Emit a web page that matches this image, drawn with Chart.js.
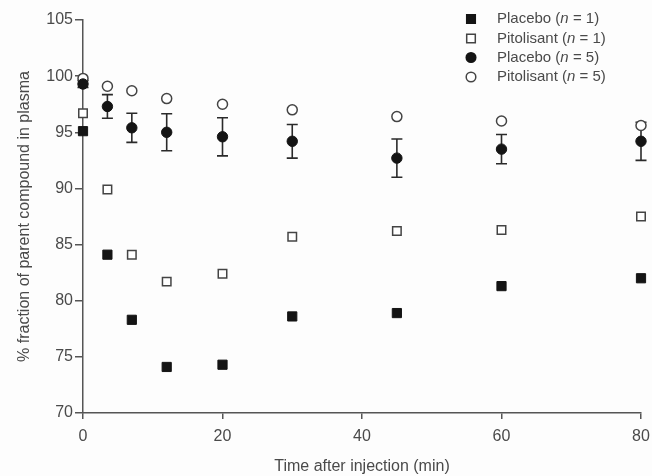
<!DOCTYPE html>
<html>
<head>
<meta charset="utf-8">
<script src="https://cdn.jsdelivr.net/npm/chart.js@4.4.1/dist/chart.umd.min.js"></script>
<style>
  html, body { margin: 0; padding: 0; background: #fdfdfd; }
  #wrap { width: 652px; height: 476px; }
</style>
</head>
<body>
<div id="wrap"><canvas id="c" width="652" height="476"></canvas></div>
<script>
// ---- data ----
const times = [0, 3.5, 7, 12, 20, 30, 45, 60, 80];
const placeboN1 = [95.1, 84.1, 78.3, 74.1, 74.3, 78.6, 78.9, 81.3, 82.0];
const pitolisantN1 = [96.7, 89.9, 84.1, 81.7, 82.4, 85.7, 86.2, 86.3, 87.5];
const placeboN5 = [99.3, 97.3, 95.4, 95.0, 94.6, 94.2, 92.7, 93.5, 94.2];
const placeboN5Err = [0.3, 1.05, 1.3, 1.65, 1.7, 1.5, 1.7, 1.3, 1.7];
const pitolisantN5 = [99.8, 99.1, 98.7, 98.0, 97.5, 97.0, 96.4, 96.0, 95.6];
const legendLabels = [
  ['Placebo (', 'n', ' = 1)'],
  ['Pitolisant (', 'n', ' = 1)'],
  ['Placebo (', 'n', ' = 5)'],
  ['Pitolisant (', 'n', ' = 5)']
];
const xTicks = [0, 20, 40, 60, 80];
const yTicks = [70, 75, 80, 85, 90, 95, 100, 105];

const pts = (vals) => times.map((t, i) => ({ x: t, y: vals[i] }));
const FONT = "'Liberation Sans', Arial, sans-serif";
const TXT = '#4a4a4a';
const AX = '#555';

const errorBars = {
  id: 'errorBars',
  beforeDatasetsDraw(chart) {
    const { ctx, scales: { x, y } } = chart;
    ctx.save();
    ctx.strokeStyle = '#2a2a2a';
    ctx.lineWidth = 1.6;
    times.forEach((t, i) => {
      const px = x.getPixelForValue(t);
      const yt = y.getPixelForValue(placeboN5[i] + placeboN5Err[i]);
      const yb = y.getPixelForValue(placeboN5[i] - placeboN5Err[i]);
      ctx.beginPath();
      ctx.moveTo(px, yt); ctx.lineTo(px, yb);
      ctx.moveTo(px - 5.5, yt); ctx.lineTo(px + 5.5, yt);
      ctx.moveTo(px - 5.5, yb); ctx.lineTo(px + 5.5, yb);
      ctx.stroke();
    });
    ctx.restore();
  }
};

const customLegend = {
  id: 'customLegend',
  afterDraw(chart) {
    const ctx = chart.ctx;
    const mx = 471, tx = 497;
    const rows = [19, 38.5, 57.5, 77];
    ctx.save();
    chart.data.datasets.forEach((ds, i) => {
      const cy = rows[i];
      ctx.lineWidth = 1.5;
      ctx.strokeStyle = ds.borderColor;
      ctx.fillStyle = ds.backgroundColor;
      ctx.beginPath();
      if (ds.pointStyle === 'rect') {
        const s = 4.3;
        ctx.rect(mx - s, cy - s, 2 * s, 2 * s);
      } else {
        ctx.arc(mx, cy, 4.8, 0, Math.PI * 2);
      }
      ctx.fill(); ctx.stroke();
      const parts = legendLabels[i];
      ctx.fillStyle = TXT;
      ctx.textBaseline = 'middle';
      ctx.textAlign = 'left';
      let xx = tx;
      parts.forEach((p, k) => {
        ctx.font = (k === 1 ? 'italic ' : '') + '15px ' + FONT;
        ctx.fillText(p, xx, cy);
        xx += ctx.measureText(p).width;
      });
    });
    ctx.restore();
  }
};

new Chart(document.getElementById('c'), {
  type: 'scatter',
  data: {
    datasets: [
      { label: 'Placebo (n = 1)', data: pts(placeboN1), pointStyle: 'rect', pointRadius: 6.5,
        backgroundColor: '#141414', borderColor: '#141414', borderWidth: 1, clip: false },
      { label: 'Pitolisant (n = 1)', data: pts(pitolisantN1), pointStyle: 'rect', pointRadius: 6,
        backgroundColor: '#ffffff', borderColor: '#444', borderWidth: 1.5, clip: false },
      { label: 'Placebo (n = 5)', data: pts(placeboN5), pointStyle: 'circle', pointRadius: 5.2,
        backgroundColor: '#141414', borderColor: '#141414', borderWidth: 1, clip: false },
      { label: 'Pitolisant (n = 5)', data: pts(pitolisantN5), pointStyle: 'circle', pointRadius: 5,
        backgroundColor: '#ffffff', borderColor: '#444', borderWidth: 1.5, clip: false }
    ]
  },
  options: {
    responsive: false,
    animation: false,
    events: [],
    layout: { padding: { top: 20, right: 11, left: 0, bottom: 0 } },
    plugins: { legend: { display: false }, tooltip: { enabled: false } },
    scales: {
      x: {
        type: 'linear', min: 0, max: 80,
        afterBuildTicks: (s) => { s.ticks = xTicks.map(v => ({ value: v })); },
        afterFit: (s) => { s.height = 63; s.paddingRight = 0; s.paddingLeft = 0; },
        border: { display: true, color: AX, width: 1.5 },
        grid: { display: true, drawOnChartArea: false, drawTicks: true, tickLength: 6, color: AX, lineWidth: 1.5 },
        ticks: { color: TXT, font: { family: FONT, size: 16 }, padding: 8, maxRotation: 0 },
        title: { display: true, text: 'Time after injection (min)', color: TXT,
                 font: { family: FONT, size: 16 }, padding: { top: 0, bottom: 0 } }
      },
      y: {
        type: 'linear', min: 70, max: 105,
        afterBuildTicks: (s) => { s.ticks = yTicks.map(v => ({ value: v })); },
        afterFit: (s) => { s.width = 83; s.paddingTop = 0; s.paddingBottom = 0; },
        border: { display: true, color: AX, width: 1.5 },
        grid: { display: true, drawOnChartArea: false, drawTicks: true, tickLength: 8, color: AX, lineWidth: 1.5 },
        ticks: { color: TXT, font: { family: FONT, size: 16 }, padding: 2 },
        title: { display: true, text: '% fraction of parent compound in plasma', color: TXT,
                 font: { family: FONT, size: 16 }, padding: { top: 15, bottom: 0 } }
      }
    }
  },
  plugins: [errorBars, customLegend]
});
</script>
</body>
</html>
